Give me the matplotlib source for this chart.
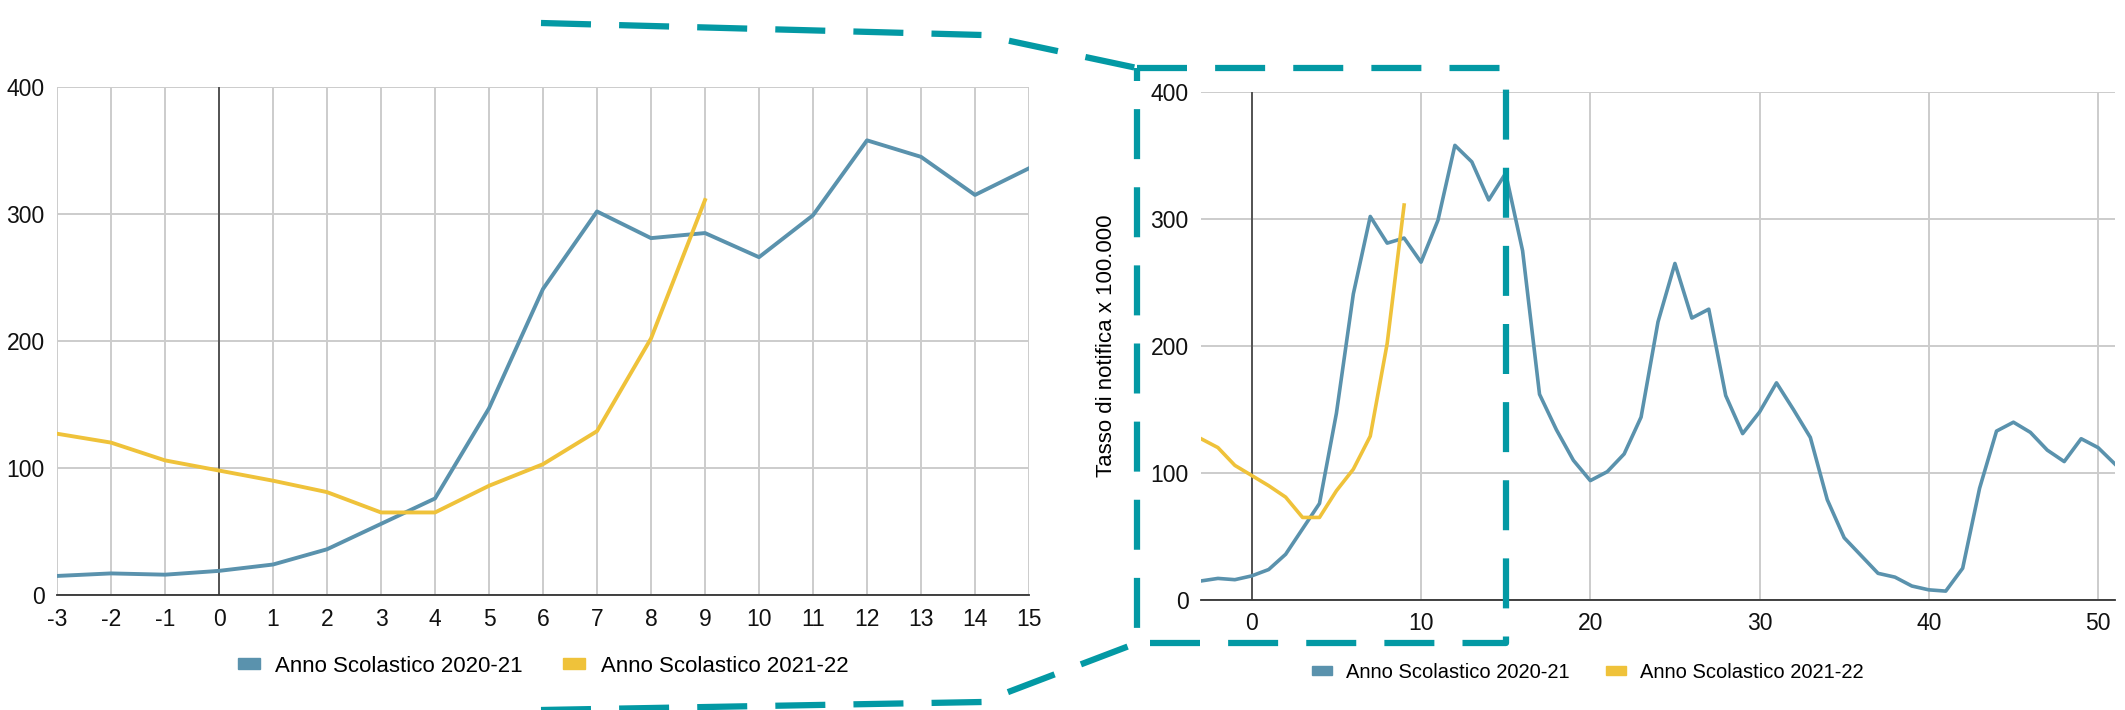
import numpy as np
import matplotlib
matplotlib.use('Agg')
import matplotlib.pyplot as plt
from matplotlib.lines import Line2D
from matplotlib.patches import Patch

plt.rcParams['font.family'] = ['Liberation Sans', 'DejaVu Sans']
plt.rcParams['axes.unicode_minus'] = False

# weeks since school start
weeks_2021 = list(range(-3, 52))
tasso_2021 = [15, 17, 16, 19, 24, 36, 56, 76, 147, 241, 302, 281, 285, 266, 299, 358, 345, 315, 336,
              275, 162, 134, 110, 94, 101, 115, 144, 219, 265, 222, 229, 161, 131, 148, 171, 150, 128,
              79, 49, 35, 21, 18, 11, 8, 7, 25, 88, 133, 140, 132, 118, 109, 127, 120, 107]
weeks_2122 = list(range(-3, 10))
tasso_2122 = [127, 120, 106, 98, 90, 81, 65, 65, 86, 103, 129, 202, 311]

label_2021 = 'Anno Scolastico 2020-21'
label_2122 = 'Anno Scolastico 2021-22'
ylabel = 'Tasso di notifica x 100.000'

col_2021 = '#5a92ad'
col_2122 = '#efc23a'
col_zoom = '#0399a4'
col_grid = '#cccccc'

W, H = 2125, 710
fig = plt.figure(figsize=(W / 100, H / 100), dpi=100)


def px(x0, y0, x1, y1):
    # pixel box (top-left origin) -> figure fraction rect
    return [x0 / W, 1 - y1 / H, (x1 - x0) / W, (y1 - y0) / H]


def style_axes(ax, xticks):
    ax.set_ylim(0, 400)
    ax.set_yticks([0, 100, 200, 300, 400])
    ax.set_xticks(xticks)
    ax.grid(True, color=col_grid, linewidth=1.4)
    ax.set_axisbelow(True)
    for s in ['top', 'right', 'left']:
        ax.spines[s].set_visible(False)
    ax.spines['bottom'].set_color('#333333')
    ax.spines['bottom'].set_linewidth(1.3)
    ax.axvline(0, color='#333333', linewidth=1.1, zorder=1.5)
    ax.tick_params(length=0, labelsize=16.5, pad=9, labelcolor='#111111')


# left: zoomed detail
ax1 = fig.add_axes(px(57, 87, 1029, 595))
ax1.plot(weeks_2021[:19], tasso_2021[:19], color=col_2021, linewidth=2.8, zorder=3)
ax1.plot(weeks_2122, tasso_2122, color=col_2122, linewidth=2.8, zorder=3)
ax1.set_xlim(-3, 15)
style_axes(ax1, list(range(-3, 16)))

# right: whole year
ax2 = fig.add_axes(px(1201, 92, 2115, 600))
ax2.plot(weeks_2021, tasso_2021, color=col_2021, linewidth=2.6, zorder=3)
ax2.plot(weeks_2122, tasso_2122, color=col_2122, linewidth=2.6, zorder=3)
ax2.set_xlim(-3, 51)
style_axes(ax2, [0, 10, 20, 30, 40, 50])
ax2.set_ylabel(ylabel, fontsize=16, labelpad=24)

handles = [Patch(color=col_2021, label=label_2021), Patch(color=col_2122, label=label_2122)]
for ax, anchor, fs in [(ax1, (0.5, -0.14), 16), (ax2, (0.423, -0.142), 14.5)]:
    ax.legend(handles=handles, loc='center', bbox_to_anchor=anchor, ncol=2, frameon=False,
              fontsize=fs, handlelength=1.0, handleheight=0.35, columnspacing=1.8,
              handletextpad=0.7)

# zoom box on the right chart (x from left edge to week 15)
dash = dict(color=col_zoom, linewidth=4.5, dashes=(8, 4.5), solid_capstyle='butt',
            dash_capstyle='butt', transform=fig.transFigure, clip_on=False)
bx0 = 1137 / W
bx1 = fig.transFigure.inverted().transform(ax2.transData.transform((15, 0)))[0]
by_top = 1 - 68 / H
by_bot = 1 - 643 / H
fig.add_artist(Line2D([bx0, bx1, bx1, bx0, bx0], [by_top, by_top, by_bot, by_bot, by_top], **dash))
# connector lines toward the left chart
fig.add_artist(Line2D([541 / W, 982 / W, bx0], [1 - 23 / H, 1 - 35 / H, by_top], **dash))
fig.add_artist(Line2D([541 / W, 982 / W, bx0], [1 - 710 / H, 1 - 702 / H, by_bot], **dash))

fig.savefig('out.png', dpi=100, facecolor='white')
